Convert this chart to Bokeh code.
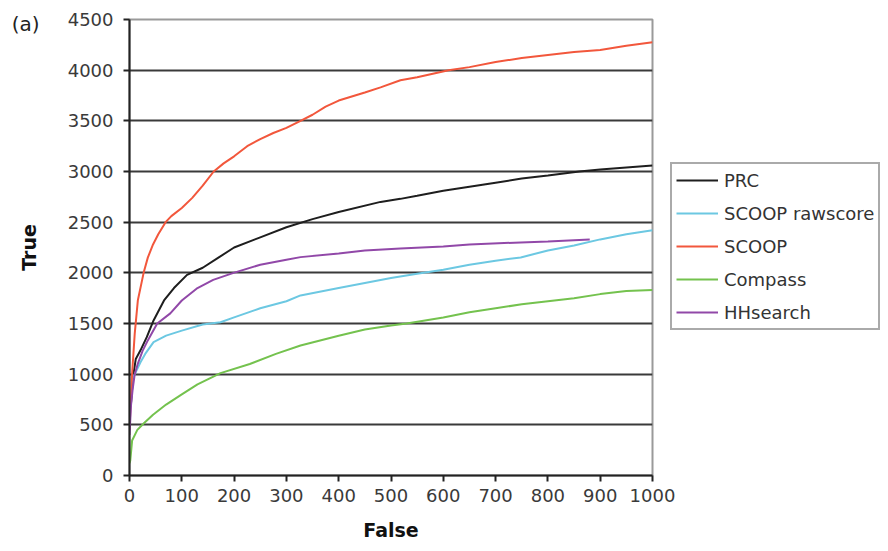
from bokeh.plotting import figure
from bokeh.models import Range1d, FixedTicker, Legend, LegendItem, LinearAxis
from bokeh.embed import file_html
from bokeh.resources import INLINE

# ---- data ----
prc_x = [0, 3, 5, 8, 12, 21, 33, 46, 66, 85, 110, 140, 170, 200, 250, 300, 350, 400, 480, 518, 550, 600, 650, 700, 750, 800, 860, 900, 950, 1000]
prc_y = [650, 720, 850, 1013, 1150, 1235, 1365, 1530, 1727, 1850, 1980, 2050, 2150, 2250, 2350, 2450, 2530, 2600, 2700, 2730, 2760, 2810, 2850, 2890, 2930, 2960, 3000, 3020, 3040, 3060]

raw_x = [0, 2, 5, 12, 21, 30, 46, 70, 100, 140, 174, 200, 250, 300, 327, 400, 450, 500, 550, 600, 650, 700, 748, 800, 850, 900, 950, 1000]
raw_y = [650, 800, 950, 1020, 1118, 1200, 1316, 1380, 1430, 1490, 1513, 1560, 1650, 1720, 1777, 1850, 1900, 1950, 1990, 2030, 2080, 2120, 2152, 2220, 2270, 2330, 2380, 2420]

scoop_x = [0, 1.5, 5, 10, 16, 27, 35, 45, 55, 69, 80, 100, 120, 140, 161, 180, 200, 225, 250, 275, 300, 327, 350, 375, 400, 450, 480, 518, 550, 610, 650, 700, 750, 800, 850, 900, 950, 1000]
scoop_y = [450, 640, 1004, 1400, 1730, 2000, 2150, 2280, 2380, 2500, 2560, 2640, 2740, 2860, 3000, 3080, 3150, 3250, 3320, 3380, 3430, 3500, 3560, 3640, 3700, 3780, 3830, 3900, 3930, 4000, 4030, 4080, 4120, 4150, 4180, 4200, 4240, 4275]

comp_x = [0, 1.5, 5, 15, 27, 45, 70, 100, 130, 174, 230, 280, 327, 400, 450, 500, 530, 600, 650, 700, 750, 800, 850, 900, 950, 1000]
comp_y = [120, 148, 345, 450, 513, 600, 700, 800, 900, 1010, 1100, 1200, 1283, 1380, 1440, 1480, 1500, 1560, 1610, 1650, 1690, 1720, 1750, 1790, 1820, 1830]

hh_x = [0, 3, 6, 10, 16, 25, 35, 53, 78, 100, 130, 160, 199, 250, 300, 327, 400, 450, 518, 600, 650, 748, 800, 880]
hh_y = [400, 700, 850, 1000, 1105, 1230, 1333, 1500, 1600, 1727, 1850, 1930, 2000, 2080, 2130, 2155, 2190, 2220, 2240, 2260, 2280, 2300, 2310, 2330]

series_names = ["PRC", "SCOOP rawscore", "SCOOP", "Compass", "HHsearch"]

x_ticks = [0, 100, 200, 300, 400, 500, 600, 700, 800, 900, 1000]
y_ticks = [0, 500, 1000, 1500, 2000, 2500, 3000, 3500, 4000, 4500]
grid_ticks = [500, 1000, 1500, 2000, 2500, 3000, 3500, 4000]
panel_tag = "(a)"
panel_tag_at = 4460

FONT = "DejaVu Sans"

p = figure(width=880, height=543, frame_width=523, frame_height=456,
           output_backend="svg", toolbar_location=None,
           x_range=Range1d(0, 1000), y_range=Range1d(0, 4500),
           min_border_left=129, min_border_right=228, min_border_top=19, min_border_bottom=68)

p.outline_line_color = "#9a9a9a"
p.outline_line_width = 2
p.background_fill_color = "white"
p.border_fill_color = "white"

p.xgrid.visible = False
p.ygrid.ticker = FixedTicker(ticks=grid_ticks)
p.ygrid.grid_line_color = "#3a3a3a"
p.ygrid.grid_line_width = 2

for ax in (p.xaxis[0], p.yaxis[0]):
    ax.axis_line_color = "#222222"
    ax.axis_line_width = 2
    ax.major_tick_line_color = "#222222"
    ax.major_tick_line_width = 2
    ax.major_tick_in = 0
    ax.major_tick_out = 6
    ax.minor_tick_line_color = None
    ax.major_label_text_font = FONT
    ax.major_label_text_font_size = "18px"
    ax.major_label_text_color = "#3a3a3a"
    ax.axis_label_text_font = FONT
    ax.axis_label_text_font_size = "19px"
    ax.axis_label_text_font_style = "bold"
    ax.axis_label_text_color = "#111111"

p.xaxis[0].ticker = FixedTicker(ticks=x_ticks)
p.yaxis[0].ticker = FixedTicker(ticks=y_ticks)
p.xaxis[0].axis_label = "False"
p.xaxis[0].major_label_standoff = 7
p.xaxis[0].axis_label_standoff = 14
p.yaxis[0].major_label_standoff = 10

# outer left axis: carries the "(a)" tag and the "True" axis title
tag_axis = LinearAxis(ticker=FixedTicker(ticks=[panel_tag_at]),
                      major_label_overrides={panel_tag_at: panel_tag},
                      axis_label="True")
tag_axis.axis_line_color = None
tag_axis.major_tick_line_color = None
tag_axis.minor_tick_line_color = None
tag_axis.major_tick_in = 0
tag_axis.major_tick_out = 0
tag_axis.major_label_standoff = 25
tag_axis.major_label_text_font = FONT
tag_axis.major_label_text_font_size = "20px"
tag_axis.major_label_text_color = "#222222"
tag_axis.axis_label_standoff = -31
tag_axis.axis_label_text_font = FONT
tag_axis.axis_label_text_font_size = "19px"
tag_axis.axis_label_text_font_style = "bold"
tag_axis.axis_label_text_color = "#111111"
p.add_layout(tag_axis, "left")

colors = ["#1e1e1e", "#6cc8e2", "#f2573c", "#74c24e", "#9148a8"]
xs = [prc_x, raw_x, scoop_x, comp_x, hh_x]
ys = [prc_y, raw_y, scoop_y, comp_y, hh_y]
items = []
for name, c, xx, yy in zip(series_names, colors, xs, ys):
    r = p.line(xx, yy, line_color=c, line_width=2)
    items.append(LegendItem(label=name, renderers=[r]))

legend = Legend(items=items, location=(18, 145))
legend.label_text_font = FONT
legend.label_text_font_size = "18px"
legend.label_text_color = "#333333"
legend.border_line_color = "#555555"
legend.border_line_width = 2
legend.background_fill_color = "white"
legend.background_fill_alpha = 1
legend.glyph_width = 42
legend.glyph_height = 24
legend.label_height = 24
legend.label_standoff = 6
legend.spacing = 9
legend.padding = 4
legend.margin = 0
p.add_layout(legend, "right")

open("out.html", "w").write(file_html(p, INLINE))
